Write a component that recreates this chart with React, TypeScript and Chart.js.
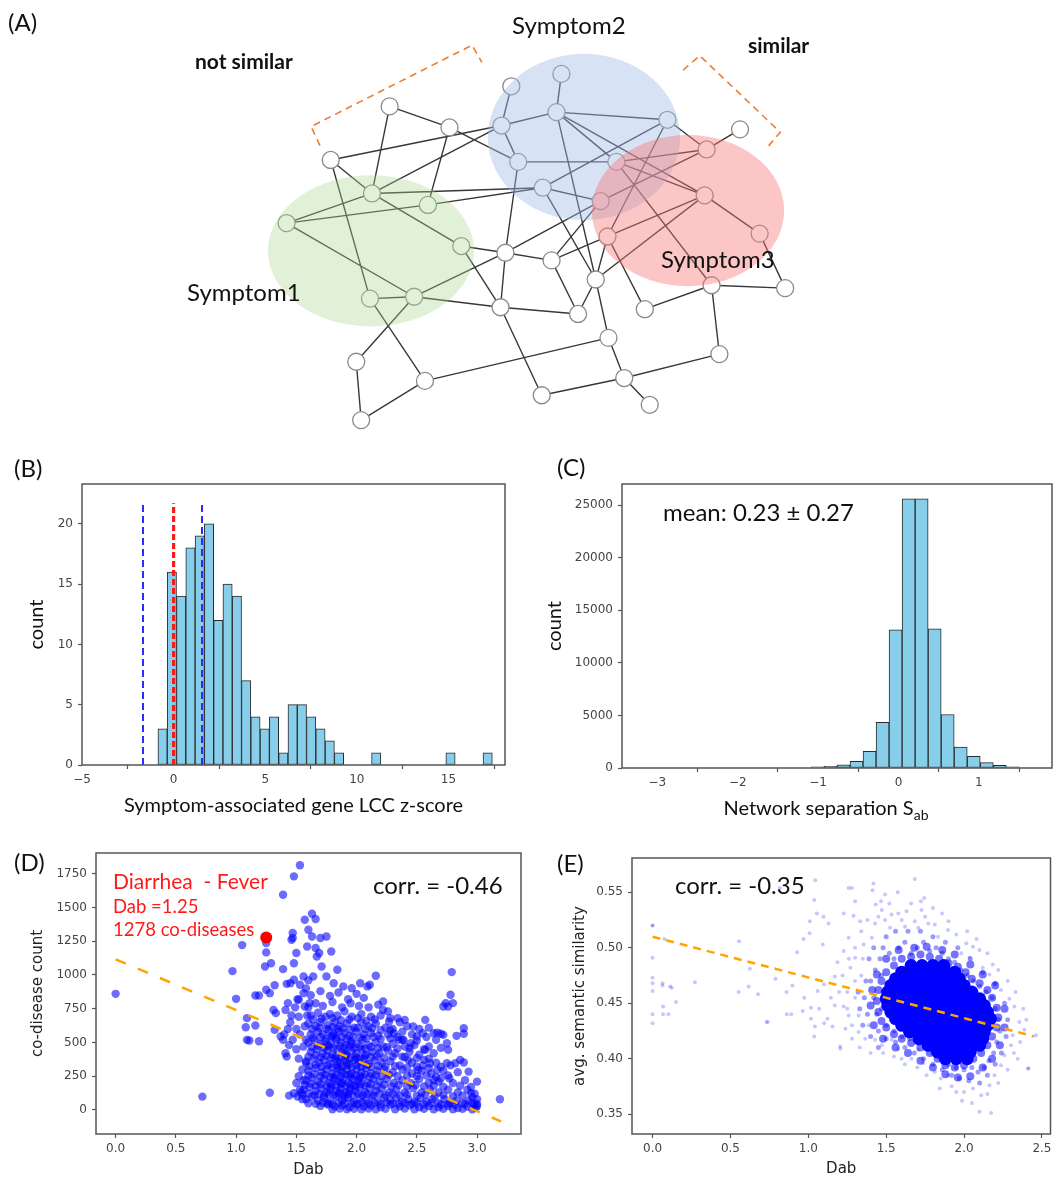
import React, { useEffect, useRef } from "react";
import { Chart, registerables } from "chart.js";
Chart.register(...registerables);

// ---------------- (A) network diagram ----------------
const NODE_X = [387, 448, 327, 369, 426, 282, 460, 367, 412, 505, 500, 353, 423, 358, 511, 501, 518, 562, 557, 670, 618, 543, 710, 744, 602, 708, 609, 764, 552, 597, 579, 647, 715, 790, 610, 723, 626, 542, 652];
const NODE_Y = [101, 123, 157, 192, 204, 223, 247, 302, 300, 254, 311, 368, 388, 429, 80, 121, 159, 67, 107, 115, 159, 186, 146, 125, 200, 194, 237, 234, 262, 282, 318, 313, 288, 291, 343, 360, 385, 403, 413];
const EDGES: [number, number][] = [
  [0, 1], [0, 3], [1, 16], [1, 4], [2, 15], [2, 3], [2, 7], [3, 15], [3, 21], [3, 5], [3, 6], [4, 5], [4, 21],
  [5, 8], [6, 9], [6, 10], [7, 8], [8, 9], [8, 10], [8, 11], [7, 12], [11, 13], [13, 12], [12, 34], [9, 16],
  [9, 10], [9, 28], [9, 24], [10, 30], [10, 37], [15, 14], [15, 16], [15, 18], [16, 20], [17, 18], [18, 19],
  [18, 20], [18, 25], [18, 29], [19, 22], [19, 21], [19, 26], [22, 23], [22, 20], [22, 24], [20, 25], [20, 32],
  [21, 24], [21, 29], [25, 26], [25, 27], [25, 29], [26, 28], [26, 31], [26, 29], [28, 24], [28, 30], [29, 30],
  [29, 34], [27, 33], [31, 32], [32, 33], [32, 35], [34, 36], [36, 37], [36, 35], [36, 38],
];
const ELLIPSE_CX = [368, 585, 691];
const ELLIPSE_CY = [252, 133, 210];
const ELLIPSE_RX = [105, 98, 98];
const ELLIPSE_RY = [79, 87, 79];
const BRACKET_NS_X = [316, 307, 471, 481];
const BRACKET_NS_Y = [142, 122, 37, 55];
const BRACKET_S_X = [686, 703, 785, 770];
const BRACKET_S_Y = [63, 48, 128, 146];

// ---------------- (B) LCC z-score histogram ----------------
const B_BIN_START = -0.855;
const B_BIN_WIDTH = 0.507;
const B_COUNTS = [3, 16, 14, 18, 19, 20, 12, 15, 14, 7, 4, 3, 4, 1, 5, 5, 4, 3, 2, 1, 0, 0, 0, 1, 0, 0, 0, 0, 0, 0, 0, 1, 0, 0, 0, 1];
const B_BLUE_LINES = [-1.67, 1.55];
const B_RED_LINE = 0;
const B_LINE_TOP = 21.7;
const B_X_TICKS = [-5, 0, 5, 10, 15];
const B_Y_TICKS = [0, 5, 10, 15, 20];

// ---------------- (C) network separation histogram ----------------
const C_BIN_START = -1.089;
const C_BIN_WIDTH = 0.162;
const C_COUNTS = [100, 150, 300, 640, 1590, 4330, 13140, 25600, 25600, 13230, 5090, 2000, 1110, 510, 250, 100];
const C_X_TICKS = [-3, -2, -1, 0, 1];
const C_Y_TICKS = [0, 5000, 10000, 15000, 20000, 25000];

// ---------------- (D) co-disease count vs Dab ----------------
const D_POINTS: [number, number][] = [
  [0.0, 860], [0.72, 99], [0.97, 1028], [1.0, 823], [1.05, 1221], [1.09, 680], [1.08, 613], [1.09, 519], [1.11, 514], [1.16, 625], [1.19, 509], [1.16, 848], [1.19, 848],
  [1.25, 1236], [1.25, 1167], [1.24, 1063], [1.29, 1087], [1.25, 890], [1.28, 865], [1.32, 924], [1.31, 741], [1.33, 717], [1.32, 593], [1.28, 128],
  [1.39, 1594], [1.48, 1730], [1.53, 1812], [1.47, 1310], [1.47, 1273], [1.46, 1261], [1.5, 1162], [1.48, 1087], [1.39, 1043], [1.42, 934], [1.45, 939], [1.48, 964],
  [1.43, 791], [1.41, 741], [1.37, 544], [1.39, 519], [1.41, 420], [1.42, 395], [1.44, 106], [1.48, 124],
  [1.40, 560], [1.43, 600], [1.45, 650], [1.46, 700], [1.44, 480], [1.47, 520], [1.50, 600], [1.49, 760], [1.51, 820], [1.52, 690], [1.53, 560], [1.50, 450],
  [1.52, 380], [1.55, 300], [1.52, 250], [1.50, 200], [1.53, 150], [1.51, 100], [1.55, 80], [1.56, 220], [1.54, 130], [1.58, 350], [1.56, 470], [1.58, 520],
  [1.57, 620], [1.59, 700], [1.58, 900], [1.60, 960], [1.57, 1409], [1.63, 1453], [1.66, 1414], [1.60, 1335], [1.63, 1285], [1.70, 1273], [1.75, 1285],
  [1.59, 1211], [1.66, 1199], [1.69, 1162], [1.79, 1174], [1.67, 1137], [1.71, 1063], [1.64, 989], [1.56, 989], [1.53, 927], [1.56, 865], [1.61, 791],
  [1.52, 816], [1.57, 766], [1.84, 1038], [1.75, 989], [1.81, 939], [1.89, 915], [1.96, 902], [2.03, 939], [2.09, 915], [2.11, 927], [2.16, 994],
  [2.22, 803], [2.22, 741], [2.27, 655], [2.34, 680], [2.40, 667], [2.47, 618], [2.57, 667], [2.64, 568], [2.67, 573], [2.70, 564], [2.72, 556],
  [2.79, 1021], [2.78, 853], [2.80, 791], [2.72, 766], [2.74, 791], [2.76, 766], [2.89, 605], [2.89, 564], [2.83, 549], [2.75, 494], [2.76, 445],
  [2.75, 346], [2.82, 346], [2.86, 371], [2.89, 351], [2.93, 284], [2.95, 124], [3.0, 210], [3.0, 44], [3.19, 79], [2.57, 445], [2.56, 371], [2.51, 297],
  [2.43, 371], [2.38, 395], [2.35, 519], [2.31, 568], [2.39, 519], [2.45, 494], [2.5, 544], [2.55, 568], [2.61, 346], [2.67, 297], [2.70, 235], [2.77, 235], [2.64, 222],
  [1.62, 850], [1.70, 880], [1.78, 845], [1.85, 870], [1.93, 820], [2.0, 860], [2.06, 830],
  [1.60, 760], [1.66, 790], [1.72, 770], [1.80, 800], [1.88, 760], [1.95, 790], [2.02, 770], [2.10, 760], [2.18, 780], [2.26, 730],
  [1.62, 700], [1.68, 720], [1.74, 690], [1.78, 710], [1.84, 700], [1.90, 730], [1.96, 690], [2.04, 710], [2.12, 690], [2.20, 700], [2.28, 680], [2.36, 650],
  [1.60, 640], [1.66, 620], [1.70, 650], [1.76, 630], [1.82, 650], [1.86, 620], [1.92, 640], [1.98, 610], [2.04, 650], [2.10, 620], [2.16, 640], [2.24, 610], [2.30, 600], [2.42, 620], [2.52, 600], [2.60, 610],
  [1.62, 560], [1.68, 580], [1.72, 560], [1.77, 590], [1.81, 560], [1.85, 580], [1.90, 570], [1.94, 550], [2.00, 580], [2.06, 560], [2.12, 570], [2.18, 550], [2.26, 560], [2.34, 540], [2.46, 560], [2.58, 540], [2.66, 520],
  [1.60, 500], [1.65, 520], [1.70, 490], [1.74, 510], [1.79, 490], [1.83, 520], [1.87, 500], [1.91, 480], [1.95, 510], [2.00, 490], [2.05, 520], [2.10, 480], [2.16, 500], [2.22, 470], [2.30, 490], [2.40, 470], [2.48, 480], [2.60, 470], [2.70, 460],
  [1.62, 430], [1.67, 450], [1.72, 420], [1.76, 440], [1.80, 410], [1.84, 450], [1.88, 430], [1.92, 410], [1.96, 440], [2.00, 420], [2.04, 450], [2.08, 410], [2.13, 430], [2.19, 420], [2.26, 440], [2.32, 420], [2.44, 430], [2.52, 410], [2.64, 420],
  [1.58, 360], [1.64, 380], [1.69, 350], [1.73, 370], [1.78, 340], [1.82, 380], [1.86, 350], [1.90, 370], [1.94, 340], [1.98, 370], [2.02, 350], [2.06, 380], [2.10, 340], [2.15, 370], [2.21, 350], [2.28, 360], [2.36, 330], [2.46, 350], [2.55, 330], [2.66, 350], [2.78, 330],
  [1.60, 290], [1.66, 310], [1.71, 280], [1.75, 300], [1.80, 270], [1.84, 310], [1.88, 280], [1.92, 300], [1.96, 270], [2.00, 300], [2.04, 280], [2.08, 310], [2.12, 270], [2.17, 290], [2.23, 300], [2.30, 280], [2.38, 300], [2.46, 270], [2.54, 290], [2.62, 270], [2.72, 290], [2.84, 280],
  [1.58, 220], [1.63, 240], [1.68, 210], [1.73, 230], [1.77, 200], [1.81, 240], [1.85, 210], [1.89, 230], [1.93, 200], [1.97, 230], [2.01, 210], [2.05, 240], [2.09, 200], [2.14, 230], [2.19, 210], [2.25, 230], [2.31, 200], [2.38, 220], [2.45, 200], [2.52, 230], [2.60, 200], [2.68, 210], [2.80, 200], [2.90, 220],
  [1.56, 150], [1.61, 170], [1.66, 140], [1.71, 160], [1.75, 130], [1.79, 170], [1.83, 140], [1.87, 160], [1.91, 130], [1.95, 160], [1.99, 140], [2.03, 170], [2.07, 130], [2.11, 160], [2.16, 140], [2.21, 160], [2.27, 130], [2.33, 150], [2.40, 130], [2.47, 160], [2.54, 130], [2.61, 150], [2.68, 130], [2.76, 150], [2.84, 130], [2.92, 150], [2.98, 120],
  [1.58, 80], [1.63, 100], [1.68, 70], [1.73, 90], [1.78, 60], [1.83, 100], [1.88, 70], [1.93, 90], [1.98, 60], [2.03, 90], [2.08, 70], [2.13, 100], [2.18, 60], [2.23, 90], [2.28, 70], [2.33, 90], [2.38, 60], [2.43, 80], [2.48, 60], [2.53, 90], [2.58, 60], [2.63, 80], [2.68, 50], [2.73, 80], [2.78, 50], [2.83, 70], [2.88, 50], [2.93, 70], [2.98, 40], [3.0, 80],
  [1.70, 30], [1.76, 40], [1.82, 25], [1.88, 35], [1.94, 20], [2.00, 40], [2.06, 25], [2.12, 35], [2.20, 20], [2.28, 40], [2.36, 25], [2.44, 35], [2.52, 20], [2.60, 30], [2.68, 20], [2.76, 30], [2.84, 15], [2.92, 25], [2.99, 15], [3.0, 30],
  [1.64, 670], [1.71, 675], [1.80, 680], [1.87, 665], [1.94, 670], [2.01, 680], [2.08, 660], [2.15, 670],
  [1.63, 600], [1.69, 610], [1.75, 600], [1.80, 615], [1.84, 600], [1.89, 605], [1.95, 595], [2.01, 610], [2.07, 600], [2.13, 605], [2.20, 590], [2.28, 590], [2.38, 580],
  [1.64, 535], [1.70, 540], [1.75, 530], [1.79, 545], [1.83, 535], [1.88, 540], [1.92, 525], [1.97, 540], [2.03, 535], [2.08, 530], [2.14, 540], [2.20, 525], [2.28, 530], [2.38, 520], [2.50, 515],
  [1.63, 465], [1.68, 475], [1.73, 460], [1.77, 470], [1.81, 460], [1.86, 475], [1.90, 460], [1.94, 470], [1.98, 460], [2.03, 470], [2.07, 455], [2.12, 465], [2.18, 460], [2.25, 465], [2.34, 455], [2.44, 460], [2.56, 450],
  [1.60, 395], [1.66, 405], [1.70, 390], [1.75, 400], [1.79, 385], [1.83, 400], [1.87, 390], [1.91, 400], [1.95, 385], [1.99, 395], [2.03, 385], [2.07, 400], [2.12, 390], [2.17, 400], [2.23, 385], [2.30, 395], [2.40, 390], [2.50, 385], [2.60, 380],
  [1.61, 325], [1.66, 335], [1.71, 320], [1.76, 330], [1.80, 315], [1.84, 330], [1.88, 320], [1.92, 330], [1.96, 315], [2.00, 330], [2.04, 320], [2.08, 335], [2.12, 320], [2.18, 325], [2.24, 320], [2.32, 325], [2.42, 315], [2.50, 320], [2.60, 310], [2.70, 320],
  [1.60, 255], [1.65, 265], [1.70, 250], [1.74, 260], [1.78, 245], [1.83, 260], [1.87, 250], [1.91, 262], [1.95, 245], [1.99, 258], [2.03, 248], [2.07, 262], [2.11, 248], [2.16, 258], [2.21, 250], [2.27, 260], [2.34, 250], [2.42, 255], [2.50, 250], [2.58, 255], [2.66, 245], [2.76, 255],
  [1.57, 185], [1.62, 195], [1.66, 180], [1.70, 190], [1.75, 175], [1.79, 190], [1.83, 180], [1.87, 192], [1.91, 178], [1.95, 190], [1.99, 175], [2.03, 190], [2.07, 180], [2.12, 192], [2.17, 178], [2.23, 188], [2.29, 175], [2.35, 185], [2.42, 175], [2.49, 185], [2.56, 175], [2.64, 180], [2.72, 172], [2.86, 180], [2.95, 170],
  [1.55, 115], [1.60, 120], [1.65, 110], [1.69, 118], [1.73, 108], [1.77, 118], [1.81, 110], [1.85, 120], [1.89, 108], [1.93, 118], [1.97, 108], [2.01, 120], [2.05, 110], [2.09, 118], [2.14, 108], [2.19, 118], [2.24, 108], [2.30, 118], [2.36, 105], [2.42, 115], [2.50, 105], [2.57, 112], [2.65, 100], [2.72, 110], [2.80, 100], [2.88, 105], [2.96, 95],
  [1.60, 50], [1.66, 45], [1.72, 55], [1.76, 50], [1.80, 42], [1.85, 55], [1.90, 45], [1.96, 52], [2.01, 45], [2.05, 55], [2.10, 48], [2.15, 52], [2.20, 42], [2.25, 55], [2.30, 48], [2.35, 45], [2.40, 52], [2.46, 45], [2.50, 50], [2.56, 42], [2.62, 50], [2.70, 40], [2.76, 48], [2.82, 40], [2.90, 45], [2.96, 55],
  [1.80, 5], [1.86, 10], [1.92, 5], [1.98, 8], [2.04, 5], [2.10, 10], [2.16, 5], [2.24, 8], [2.32, 5], [2.40, 10], [2.48, 5], [2.56, 8], [2.64, 5], [2.72, 8], [2.80, 5], [2.88, 8], [2.96, 5],
  [1.78, 150], [1.82, 230], [1.86, 300], [1.90, 420], [1.94, 260], [1.98, 180], [2.02, 230], [1.84, 360], [1.88, 200], [1.92, 350], [1.96, 490], [1.80, 550], [1.76, 480], [2.00, 380], [1.86, 130], [1.90, 90], [1.94, 140],
];
const D_HIGHLIGHT: [number, number] = [1.25, 1278];
const D_FIT_X = [0, 3.2];
const D_FIT_Y = [1115, -85];
const D_X_TICKS = [0, 0.5, 1.0, 1.5, 2.0, 2.5, 3.0];
const D_Y_TICKS = [0, 250, 500, 750, 1000, 1250, 1500, 1750];

// ---------------- (E) semantic similarity vs Dab ----------------
const E_HALO: [number, number][] = [
  [0.0, 0.520], [0.0, 0.520], [0.076, 0.508], [0.0, 0.491], [0.0, 0.473], [0.0, 0.468], [0.0, 0.461], [0.0, 0.440], [0.0, 0.432], [0.064, 0.468], [0.064, 0.466],
  [0.113, 0.465], [0.123, 0.464], [0.068, 0.447], [0.068, 0.440], [0.102, 0.440], [0.151, 0.451], [0.272, 0.469], [0.555, 0.506], [0.625, 0.481], [0.617, 0.465],
  [0.553, 0.460], [0.677, 0.458], [0.732, 0.433], [0.74, 0.433], [0.789, 0.472], [0.817, 0.554], [0.86, 0.460], [0.862, 0.440], [0.891, 0.440], [0.928, 0.496],
  [0.898, 0.466], [0.97, 0.508], [1.008, 0.513], [1.01, 0.524], [1.045, 0.561], [1.038, 0.543], [1.055, 0.531], [1.098, 0.528], [1.13, 0.522], [1.093, 0.503],
  [0.974, 0.455], [0.964, 0.443], [1.017, 0.446], [1.017, 0.436], [1.042, 0.429], [1.038, 0.42], [1.06, 0.461], [1.07, 0.445], [1.102, 0.432], [1.123, 0.436],
  [1.155, 0.429], [1.17, 0.474], [1.17, 0.448], [1.204, 0.411], [1.187, 0.487], [1.10, 0.467], [1.145, 0.455], [1.198, 0.46],
  [1.684, 0.562], [1.418, 0.558], [1.412, 0.552], [1.28, 0.554], [1.259, 0.554], [1.301, 0.542], [1.574, 0.55], [1.493, 0.548], [1.467, 0.542], [1.433, 0.539],
  [1.723, 0.542], [1.744, 0.545], [1.859, 0.531], [1.227, 0.531], [1.29, 0.529], [1.472, 0.534], [1.535, 0.53], [1.578, 0.531], [1.631, 0.533], [1.727, 0.534],
  [1.77, 0.522], [1.684, 0.524], [1.333, 0.524], [1.429, 0.522], [1.493, 0.525], [1.525, 0.518], [1.621, 0.519], [1.706, 0.518], [1.812, 0.521], [1.897, 0.516],
  [1.833, 0.51], [1.259, 0.509], [1.227, 0.497], [1.301, 0.491], [1.27, 0.482], [1.355, 0.503], [1.408, 0.509], [2.014, 0.504], [2.057, 0.501], [2.099, 0.498],
  [1.982, 0.495], [2.035, 0.491], [2.184, 0.485], [2.12, 0.482], [2.163, 0.476], [2.195, 0.467], [2.237, 0.462], [2.291, 0.454], [2.323, 0.447], [2.355, 0.433],
  [2.387, 0.426], [2.461, 0.421], [2.312, 0.421], [2.412, 0.391], [2.412, 0.391], [2.344, 0.4], [2.301, 0.412], [2.259, 0.403], [2.237, 0.394], [2.195, 0.385],
  [2.163, 0.376], [2.11, 0.367], [2.057, 0.373], [1.987, 0.362], [2.099, 0.352], [2.174, 0.351], [1.95, 0.37], [1.844, 0.373], [1.897, 0.385], [1.812, 0.388],
  [1.738, 0.396], [1.663, 0.4], [1.599, 0.4], [1.706, 0.408], [1.578, 0.409], [1.535, 0.417], [1.472, 0.412], [1.429, 0.417], [1.365, 0.418], [1.323, 0.424],
  [1.28, 0.418], [1.238, 0.427], [1.206, 0.409], [1.259, 0.439], [1.227, 0.447], [1.323, 0.439], [1.387, 0.43], [1.3, 0.47], [1.25, 0.46], [1.35, 0.49], [1.22, 0.475],
  [1.30, 0.50], [1.34, 0.515], [1.38, 0.525], [1.45, 0.528], [1.52, 0.54], [1.60, 0.525], [1.66, 0.54], [1.75, 0.528], [1.80, 0.536], [1.90, 0.524], [1.95, 0.512],
  [2.02, 0.515], [2.08, 0.508], [2.15, 0.495], [2.22, 0.48], [2.28, 0.47], [2.33, 0.46], [2.38, 0.445], [2.40, 0.435], [2.36, 0.415], [2.32, 0.405], [2.28, 0.39],
  [2.22, 0.378], [2.15, 0.368], [2.05, 0.36], [2.00, 0.37], [1.92, 0.375], [1.85, 0.382], [1.76, 0.385], [1.70, 0.392], [1.62, 0.395], [1.55, 0.402], [1.48, 0.405],
  [1.40, 0.405], [1.33, 0.41], [1.28, 0.43], [1.25, 0.445], [1.30, 0.455], [1.34, 0.475], [1.26, 0.49],
];
const E_RING: [number, number][] = [
  [1.40, 0.47], [1.42, 0.455], [1.44, 0.44], [1.45, 0.425], [1.43, 0.48], [1.46, 0.49], [1.48, 0.50], [1.52, 0.495], [1.55, 0.49], [1.58, 0.50], [1.62, 0.505],
  [1.66, 0.495], [1.70, 0.50], [1.74, 0.505], [1.78, 0.497], [1.82, 0.50], [1.86, 0.495], [1.90, 0.49], [1.94, 0.487], [1.98, 0.48], [2.02, 0.475], [2.06, 0.47],
  [2.10, 0.465], [2.14, 0.46], [2.18, 0.455], [2.20, 0.445], [2.22, 0.435], [2.23, 0.425], [2.21, 0.415], [2.19, 0.405], [2.16, 0.398], [2.13, 0.392], [2.09, 0.388],
  [2.05, 0.392], [2.00, 0.39], [1.95, 0.392], [1.90, 0.395], [1.85, 0.40], [1.80, 0.405], [1.75, 0.41], [1.70, 0.415], [1.65, 0.418], [1.60, 0.42], [1.55, 0.425],
  [1.50, 0.43], [1.47, 0.445], [1.48, 0.46], [1.47, 0.475], [1.38, 0.44], [1.36, 0.455], [1.37, 0.47], [1.35, 0.43], [1.39, 0.49], [1.42, 0.50], [1.50, 0.51],
  [1.56, 0.515], [1.64, 0.515], [1.72, 0.515], [1.80, 0.51], [1.88, 0.505], [1.96, 0.50], [2.04, 0.49], [2.12, 0.478], [2.20, 0.468], [2.26, 0.45], [2.28, 0.435],
  [2.27, 0.42], [2.24, 0.405], [2.20, 0.395], [2.15, 0.385], [2.10, 0.378], [2.03, 0.38], [1.97, 0.382], [1.92, 0.385], [1.86, 0.39], [1.80, 0.395], [1.74, 0.40],
  [1.68, 0.405], [1.62, 0.41], [1.56, 0.415], [1.50, 0.418], [1.45, 0.41], [1.40, 0.42], [1.33, 0.445], [1.32, 0.46],
];
const E_MID: [number, number][] = [
  [1.60, 0.490], [1.66, 0.492], [1.72, 0.494], [1.78, 0.492], [1.84, 0.490], [1.90, 0.486], [1.96, 0.483], [2.01, 0.478],
  [1.55, 0.484], [1.50, 0.478], [1.47, 0.470], [1.45, 0.462], [1.44, 0.452], [1.45, 0.442], [1.47, 0.434], [1.50, 0.428], [1.55, 0.422],
  [1.60, 0.418], [1.66, 0.414], [1.72, 0.410], [1.78, 0.405], [1.83, 0.400], [1.88, 0.394], [1.94, 0.392], [2.00, 0.394], [2.06, 0.400],
  [2.11, 0.405], [2.15, 0.412], [2.18, 0.420], [2.21, 0.428], [2.22, 0.437], [2.21, 0.446], [2.18, 0.455], [2.15, 0.462], [2.10, 0.468], [2.05, 0.472],
  [1.58, 0.498], [1.68, 0.500], [1.76, 0.501], [1.86, 0.498], [1.94, 0.494], [2.04, 0.485], [2.12, 0.476], [2.20, 0.466], [2.26, 0.445], [2.26, 0.428],
  [2.23, 0.412], [2.18, 0.400], [2.12, 0.392], [2.04, 0.384], [1.96, 0.383], [1.88, 0.386], [1.80, 0.392], [1.72, 0.398], [1.64, 0.405], [1.56, 0.410],
  [1.48, 0.418], [1.42, 0.430], [1.40, 0.448], [1.41, 0.462], [1.44, 0.476], [1.50, 0.490],
];
const E_CORE: [number, number][] = [
  [1.66, 0.484], [1.73, 0.484], [1.80, 0.484], [1.87, 0.484],
  [1.60, 0.478], [1.67, 0.478], [1.74, 0.478], [1.81, 0.478], [1.88, 0.478], [1.94, 0.478],
  [1.56, 0.472], [1.62, 0.472], [1.69, 0.472], [1.76, 0.472], [1.83, 0.472], [1.90, 0.472], [1.97, 0.472],
  [1.53, 0.466], [1.59, 0.466], [1.66, 0.466], [1.73, 0.466], [1.80, 0.466], [1.87, 0.466], [1.93, 0.466], [2.00, 0.466],
  [1.51, 0.460], [1.57, 0.460], [1.64, 0.460], [1.71, 0.460], [1.78, 0.460], [1.85, 0.460], [1.92, 0.460], [1.99, 0.460], [2.05, 0.460],
  [1.50, 0.454], [1.56, 0.454], [1.63, 0.454], [1.70, 0.454], [1.77, 0.454], [1.84, 0.454], [1.91, 0.454], [1.98, 0.454], [2.05, 0.454], [2.10, 0.454],
  [1.51, 0.448], [1.58, 0.448], [1.65, 0.448], [1.72, 0.448], [1.79, 0.448], [1.86, 0.448], [1.93, 0.448], [2.00, 0.448], [2.07, 0.448], [2.13, 0.448],
  [1.53, 0.442], [1.60, 0.442], [1.67, 0.442], [1.74, 0.442], [1.81, 0.442], [1.88, 0.442], [1.95, 0.442], [2.02, 0.442], [2.09, 0.442], [2.15, 0.442],
  [1.56, 0.436], [1.63, 0.436], [1.70, 0.436], [1.77, 0.436], [1.84, 0.436], [1.91, 0.436], [1.98, 0.436], [2.05, 0.436], [2.12, 0.436], [2.17, 0.436],
  [1.60, 0.430], [1.67, 0.430], [1.74, 0.430], [1.81, 0.430], [1.88, 0.430], [1.95, 0.430], [2.02, 0.430], [2.09, 0.430], [2.15, 0.430],
  [1.65, 0.424], [1.72, 0.424], [1.79, 0.424], [1.86, 0.424], [1.93, 0.424], [2.00, 0.424], [2.07, 0.424], [2.13, 0.424],
  [1.71, 0.418], [1.78, 0.418], [1.85, 0.418], [1.92, 0.418], [1.99, 0.418], [2.06, 0.418], [2.12, 0.418],
  [1.77, 0.412], [1.84, 0.412], [1.91, 0.412], [1.98, 0.412], [2.05, 0.412], [2.10, 0.412],
  [1.83, 0.406], [1.90, 0.406], [1.97, 0.406], [2.04, 0.406],
  [1.88, 0.400], [1.95, 0.400], [2.02, 0.400],
];
const E_FIT_X = [0, 2.45];
const E_FIT_Y = [0.510, 0.420];
const E_X_TICKS = [0, 0.5, 1.0, 1.5, 2.0, 2.5];
const E_Y_TICKS = [0.35, 0.4, 0.45, 0.5, 0.55];

// ---------------- helpers ----------------
const TICK_FONT = { family: "'DejaVu Sans', sans-serif", size: 12 };
const LATO = "Lato, sans-serif";
const DEJAVU = "'DejaVu Sans', sans-serif";
const minus = (s: string) => s.replace("-", "\u2212");

const framePlugin = {
  id: "frame",
  afterDraw(chart: any) {
    const { ctx, chartArea: a } = chart;
    ctx.save();
    ctx.strokeStyle = "#555";
    ctx.lineWidth = 1.5;
    ctx.strokeRect(a.left, a.top, a.right - a.left, a.bottom - a.top);
    ctx.restore();
  },
};

function axis(min: number, max: number, ticks: number[], fmt: (v: number) => string, isX: boolean, size: number, title?: any) {
  return {
    type: "linear",
    min,
    max,
    bounds: "data",
    offset: false,
    afterBuildTicks: (s: any) => {
      s.ticks = ticks.map((v) => ({ value: v }));
    },
    afterFit: (s: any) => {
      if (isX) s.height = size;
      else s.width = size;
    },
    grid: { display: true, drawOnChartArea: false, drawTicks: true, tickLength: 4, tickWidth: 1.2, tickColor: "#555", color: "#555" },
    border: { display: false },
    ticks: { font: TICK_FONT, color: "#444", padding: isX ? 4 : 5, maxRotation: 0, autoSkip: false, callback: (v: any) => fmt(Number(v)) },
    title: title || { display: false },
  };
}

function baseOptions(padding: any) {
  return {
    responsive: false,
    animation: false,
    events: [],
    layout: { padding },
    plugins: { legend: { display: false }, tooltip: { enabled: false } },
  };
}

const xy = (xs: number[], ys: number[]) => xs.map((x, i) => ({ x, y: ys[i] }));
const pts = (arr: [number, number][]) => arr.map(([x, y]) => ({ x, y }));

// ---------------- chart builders ----------------
const ELLIPSE_FILL = ["rgba(170,215,140,0.35)", "rgba(160,185,228,0.42)", "rgba(250,120,120,0.42)"];
const ellipsePlugin = {
  id: "ellipses",
  afterDatasetsDraw(chart: any) {
    const { ctx, scales } = chart;
    const sx = scales.x, sy = scales.y;
    ctx.save();
    ELLIPSE_CX.forEach((cx, i) => {
      const px = sx.getPixelForValue(cx);
      const py = sy.getPixelForValue(ELLIPSE_CY[i]);
      const rx = Math.abs(sx.getPixelForValue(cx + ELLIPSE_RX[i]) - px);
      const ry = Math.abs(sy.getPixelForValue(ELLIPSE_CY[i] + ELLIPSE_RY[i]) - py);
      ctx.beginPath();
      ctx.ellipse(px, py, rx, ry, 0, 0, Math.PI * 2);
      ctx.fillStyle = ELLIPSE_FILL[i];
      ctx.fill();
    });
    ctx.restore();
  },
};

function buildA() {
  const edgeData: any[] = [];
  EDGES.forEach(([a, b]) => {
    edgeData.push({ x: NODE_X[a], y: NODE_Y[a] }, { x: NODE_X[b], y: NODE_Y[b] }, { x: NaN, y: NaN });
  });
  return {
    type: "scatter",
    data: {
      datasets: [
        { data: edgeData, showLine: true, borderColor: "#383838", borderWidth: 1.4, pointRadius: 0, spanGaps: false, order: 3, clip: false },
        { data: xy(BRACKET_NS_X, BRACKET_NS_Y), showLine: true, borderColor: "#ED7D31", borderWidth: 1.6, borderDash: [7, 5], pointRadius: 0, order: 2, clip: false },
        { data: xy(BRACKET_S_X, BRACKET_S_Y), showLine: true, borderColor: "#ED7D31", borderWidth: 1.6, borderDash: [7, 5], pointRadius: 0, order: 2, clip: false },
        { data: xy(NODE_X, NODE_Y), pointRadius: 8.5, pointBackgroundColor: "#ffffff", pointBorderColor: "#8a8a8a", pointBorderWidth: 1.3, order: 1, clip: false },
      ],
    },
    options: {
      ...baseOptions(0),
      scales: {
        x: { type: "linear", min: 0, max: 1057, display: false },
        y: { type: "linear", min: 0, max: 450, reverse: true, display: false },
      },
    },
    plugins: [ellipsePlugin],
  };
}

function buildB() {
  const bars = B_COUNTS.map((c, i) => ({ x: B_BIN_START + (i + 0.5) * B_BIN_WIDTH, y: c }));
  const vline = (x: number, color: string, width: number, dash: number[]) => ({
    type: "line",
    data: [{ x, y: 0 }, { x, y: B_LINE_TOP }],
    borderColor: color,
    borderWidth: width,
    borderDash: dash,
    pointRadius: 0,
    fill: false,
    order: 0,
  });
  return {
    type: "bar",
    data: {
      datasets: [
        { type: "bar", data: bars, backgroundColor: "#87CEEB", borderColor: "#2a2a2a", borderWidth: 1, borderSkipped: false, barPercentage: 1, categoryPercentage: 1, order: 2 },
        vline(B_BLUE_LINES[0], "#2b2bff", 2, [7, 4]),
        vline(B_BLUE_LINES[1], "#2b2bff", 2, [7, 4]),
        vline(B_RED_LINE, "#ff1a1a", 3.2, [6, 3]),
      ],
    },
    options: {
      ...baseOptions({ left: 0, top: 14, right: 25, bottom: 0 }),
      scales: {
        x: axis(-5, 18.09, B_X_TICKS, (v) => minus(String(v)), true, 60, {
          display: true, text: "Symptom-associated gene LCC z-score", color: "#111",
          font: { family: LATO, size: 20 }, padding: { top: 0, bottom: 7 },
        }),
        y: axis(0, 23.3, B_Y_TICKS, (v) => String(v), false, 82, {
          display: true, text: "count", color: "#111",
          font: { family: LATO, size: 20 }, padding: { top: 25, bottom: 0 },
        }),
      },
    },
    plugins: [framePlugin],
  };
}

function buildC() {
  const bars = C_COUNTS.map((c, i) => ({ x: C_BIN_START + (i + 0.5) * C_BIN_WIDTH, y: c }));
  return {
    type: "bar",
    data: {
      datasets: [
        { data: bars, backgroundColor: "#87CEEB", borderColor: "#2a2a2a", borderWidth: 1, borderSkipped: false, barPercentage: 1, categoryPercentage: 1 },
      ],
    },
    options: {
      ...baseOptions({ left: 0, top: 14, right: 5, bottom: 0 }),
      scales: {
        x: axis(-3.44, 1.91, C_X_TICKS, (v) => minus(String(v)), true, 57),
        y: axis(0, 27000, C_Y_TICKS, (v) => String(v), false, 92, {
          display: true, text: "count", color: "#111",
          font: { family: LATO, size: 20 }, padding: { top: 13, bottom: 0 },
        }),
      },
    },
    plugins: [framePlugin],
  };
}

function buildD() {
  return {
    type: "scatter",
    data: {
      datasets: [
        { data: pts(D_POINTS), pointRadius: 4.2, pointBackgroundColor: "rgba(0,0,255,0.58)", pointBorderWidth: 0, order: 3 },
        { data: xy(D_FIT_X, D_FIT_Y), showLine: true, borderColor: "#FFA500", borderWidth: 2.5, borderDash: [11, 13], pointRadius: 0, order: 1 },
        { data: [{ x: D_HIGHLIGHT[0], y: D_HIGHLIGHT[1] }], pointRadius: 6, pointBackgroundColor: "#ff0000", pointBorderWidth: 0, order: 0 },
      ],
    },
    options: {
      ...baseOptions({ left: 0, top: 13, right: 9, bottom: 0 }),
      scales: {
        x: axis(-0.163, 3.365, D_X_TICKS, (v) => v.toFixed(1), true, 44, {
          display: true, text: "Dab", color: "#222",
          font: { family: DEJAVU, size: 15, lineHeight: 1 }, padding: { top: 0, bottom: 0.5 },
        }),
        y: axis(-178, 1903, D_Y_TICKS, (v) => String(v), false, 96, {
          display: true, text: "co-disease count", color: "#222",
          font: { family: DEJAVU, size: 15 }, padding: { top: 29, bottom: 0 },
        }),
      },
    },
    plugins: [framePlugin],
  };
}

function buildE() {
  return {
    type: "scatter",
    data: {
      datasets: [
        { data: pts(E_HALO), pointRadius: 2, pointBackgroundColor: "rgba(0,0,255,0.22)", pointBorderWidth: 0, order: 5 },
        { data: pts(E_RING), pointRadius: 2.5, pointBackgroundColor: "rgba(0,0,255,0.4)", pointBorderWidth: 0, order: 4 },
        { data: pts(E_MID), pointRadius: 4, pointBackgroundColor: "rgba(0,0,255,0.55)", pointBorderWidth: 0, order: 3 },
        { data: pts(E_CORE), pointRadius: 6.5, pointBackgroundColor: "rgb(0,0,255)", pointBorderWidth: 0, order: 2 },
        { data: xy(E_FIT_X, E_FIT_Y), showLine: true, borderColor: "#FFA500", borderWidth: 2.5, borderDash: [8, 6], pointRadius: 0, order: 0 },
      ],
    },
    options: {
      ...baseOptions({ left: 0, top: 18, right: 4, bottom: 0 }),
      scales: {
        x: axis(-0.132, 2.555, E_X_TICKS, (v) => v.toFixed(1), true, 44, {
          display: true, text: "Dab", color: "#222",
          font: { family: DEJAVU, size: 15, lineHeight: 1 }, padding: { top: 0, bottom: 1.5 },
        }),
        y: axis(0.332, 0.581, E_Y_TICKS, (v) => v.toFixed(2), false, 102, {
          display: true, text: "avg. semantic similarity", color: "#222",
          font: { family: DEJAVU, size: 15 }, padding: { top: 41, bottom: 0 },
        }),
      },
    },
    plugins: [framePlugin],
  };
}

// ---------------- components ----------------
function ChartBox({ left, top, width, height, build }: any) {
  const ref = useRef<HTMLCanvasElement>(null);
  useEffect(() => {
    const chart = new Chart(ref.current as any, build() as any);
    return () => chart.destroy();
  }, []);
  return <canvas ref={ref} width={width} height={height} style={{ position: "absolute", left, top, width, height }} />;
}

function Txt({ x, y, size, bold, color, center, children }: any) {
  return (
    <div
      style={{
        position: "absolute",
        left: x,
        top: y,
        transform: center ? "translate(-50%,-50%)" : "translateY(-50%)",
        fontFamily: LATO,
        fontSize: size,
        fontWeight: bold ? 700 : 400,
        color: color || "#111",
        lineHeight: 1,
        whiteSpace: "pre",
      }}
    >
      {children}
    </div>
  );
}

export default function App() {
  return (
    <div style={{ position: "absolute", left: 0, top: 0, width: 1057, height: 1178, overflow: "hidden", background: "#fff" }}>
      <ChartBox left={0} top={0} width={1057} height={450} build={buildA} />
      <ChartBox left={0} top={470} width={530} height={355} build={buildB} />
      <ChartBox left={530} top={470} width={527} height={355} build={buildC} />
      <ChartBox left={0} top={840} width={530} height={338} build={buildD} />
      <ChartBox left={530} top={840} width={527} height={338} build={buildE} />

      <Txt x={8} y={22} size={24}>(A)</Txt>
      <Txt x={512} y={25} size={24}>Symptom2</Txt>
      <Txt x={195} y={60} size={21} bold>not similar</Txt>
      <Txt x={748} y={44} size={21} bold>similar</Txt>
      <Txt x={187} y={292} size={24}>Symptom1</Txt>
      <Txt x={661} y={259} size={24}>Symptom3</Txt>

      <Txt x={14} y={468} size={24}>(B)</Txt>
      <Txt x={557} y={467} size={24}>(C)</Txt>
      <Txt x={663} y={512} size={24}>mean: 0.23 ± 0.27</Txt>
      <Txt x={826} y={809} size={20} center>
        Network separation S<sub style={{ fontSize: "0.7em" }}>ab</sub>
      </Txt>

      <Txt x={14} y={862} size={24}>(D)</Txt>
      <Txt x={113} y={880} size={21} color="#ff1a1a">Diarrhea  - Fever</Txt>
      <Txt x={113} y={906} size={18.5} color="#ff1a1a">Dab =1.25</Txt>
      <Txt x={113} y={929} size={18.5} color="#ff1a1a">1278 co-diseases</Txt>
      <Txt x={373} y={885} size={24}>corr. = -0.46</Txt>

      <Txt x={557} y={863} size={24}>(E)</Txt>
      <Txt x={675} y={885} size={24}>corr. = -0.35</Txt>
    </div>
  );
}
